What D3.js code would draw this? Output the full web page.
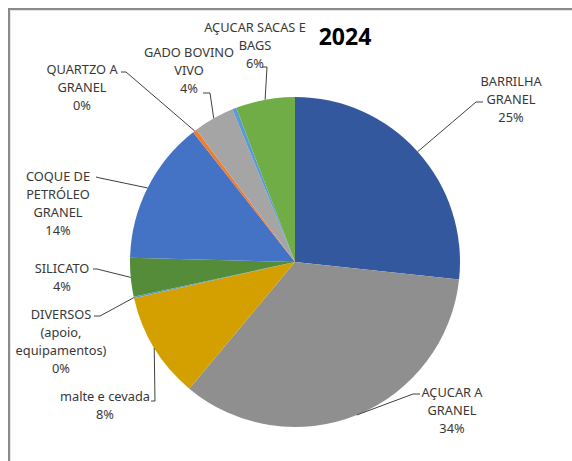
<!DOCTYPE html>
<html>
<head>
<meta charset="utf-8">
<script src="https://cdn.jsdelivr.net/npm/d3@7"></script>
<style>
  body { margin: 0; background: #fff; }
  text { font-family: "Noto Sans", "DejaVu Sans", sans-serif; }
</style>
</head>
<body>
<svg class="chart"></svg>
<script>
// cargo share 2024 (angles) and the labels
var categories = ["BARRILHA GRANEL", "AÇUCAR A GRANEL", "malte e cevada",
  "DIVERSOS (apoio, equipamentos)", "SILICATO", "COQUE DE PETRÓLEO GRANEL",
  "QUARTZO A GRANEL", "GADO BOVINO VIVO", "", "AÇUCAR SACAS E BAGS"];
var values = [26.7, 34.4, 10.4, 0.15, 3.8, 14.0, 0.4, 4.0, 0.4, 5.8];
var pctLabels = ["25%", "34%", "8%", "0%", "4%", "14%", "0%", "4%", "", "6%"];
var labelLines = [
  ["BARRILHA", "GRANEL"],
  ["AÇUCAR A", "GRANEL"],
  ["malte e cevada"],
  ["DIVERSOS", "(apoio,", "equipamentos)"],
  ["SILICATO"],
  ["COQUE DE", "PETRÓLEO", "GRANEL"],
  ["QUARTZO A", "GRANEL"],
  ["GADO BOVINO", "VIVO"],
  [],
  ["AÇUCAR SACAS E", "BAGS"]
];
var colors = ["#34589e", "#8f8f8f", "#d4a000", "#5b9bd5", "#548c3a",
  "#4472c4", "#ed7d31", "#a5a5a5", "#5b9bd5", "#70ad47"];
var title = "2024";

var width = 572;
var height = 461;
var cx = 295, cy = 262, r = 165;

var chart = d3.select(".chart").attr("width", width).attr("height", height);

// frame (only left and top edges are in the shot)
chart.append("path")
  .attr("d", "M9,461 V9 H572")
  .attr("fill", "none")
  .attr("stroke", "#8a8a8a")
  .attr("stroke-width", 2);
chart.append("path")
  .attr("d", "M10.5,461 V10.5 H572")
  .attr("fill", "none")
  .attr("stroke", "#e4e4e4")
  .attr("stroke-width", 1);

var pie = d3.pie().sort(null).value(function(d) { return d; });
var arcs = pie(values);
var arc = d3.arc().innerRadius(0).outerRadius(r);

var g = chart.append("g").attr("transform", "translate(" + cx + "," + cy + ")");
g.selectAll("path.slice")
  .data(arcs)
  .enter().append("path")
  .attr("class", "slice")
  .attr("d", arc)
  .attr("fill", function(d, i) { return colors[i]; });

// label layout: text centre x, first line y, elbow, leader end
var layout = [
  { x: 511, y: 82, elbow: [476, 102], end: [483, 102] },
  { x: 452, y: 393, elbow: [413, 394], end: [420, 394] },
  { x: 105, y: 397, elbow: [155, 401], end: [151, 401] },
  { x: 61, y: 315, elbow: [100, 316], end: [94, 316] },
  { x: 62, y: 269, elbow: [97, 269], end: [93, 269] },
  { x: 58, y: 177, elbow: [100, 178], end: [96, 177] },
  { x: 82, y: 70, elbow: [126, 72], end: [121, 72] },
  { x: 189, y: 53, elbow: [210, 93], end: [203, 93] },
  null,
  { x: 255, y: 28, elbow: [267, 67], end: [262, 67] }
];
var lineH = 18;

arcs.forEach(function(a, i) {
  var L = layout[i];
  if (!L) return;
  var mid = (a.startAngle + a.endAngle) / 2;
  var ax = cx + r * Math.sin(mid), ay = cy - r * Math.cos(mid);
  chart.append("polyline")
    .attr("points", [[ax, ay], L.elbow, L.end].map(function(p) { return p.join(","); }).join(" "))
    .attr("fill", "none")
    .attr("stroke", "#404040")
    .attr("stroke-width", 1);

  var lines = labelLines[i].concat([pctLabels[i]]);
  var t = chart.append("text")
    .attr("text-anchor", "middle")
    .attr("font-size", 12.8)
    .attr("fill", "#383838");
  lines.forEach(function(s, k) {
    t.append("tspan")
      .attr("x", L.x)
      .attr("y", L.y + k * lineH)
      .attr("dy", "0.35em")
      .text(s);
  });
});

chart.append("text")
  .attr("x", 345)
  .attr("y", 37)
  .attr("dy", "0.35em")
  .attr("text-anchor", "middle")
  .attr("font-size", 23)
  .attr("font-weight", "bold")
  .attr("fill", "#000")
  .text(title);
</script>
</body>
</html>
